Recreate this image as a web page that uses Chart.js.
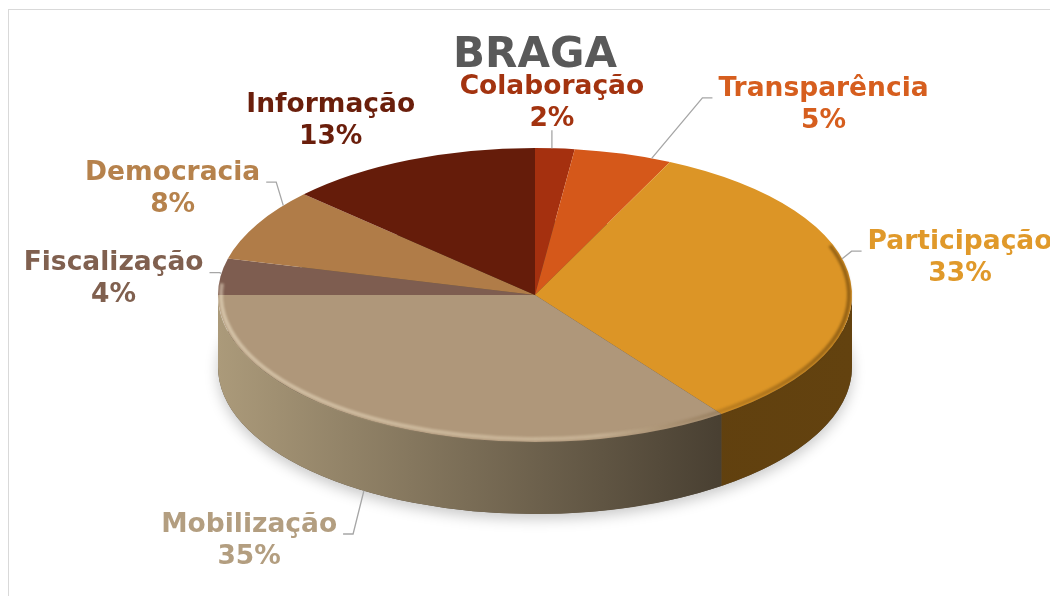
<!DOCTYPE html>
<html>
<head>
<meta charset="utf-8">
<script src="https://cdn.jsdelivr.net/npm/chart.js@4.4.1/dist/chart.umd.min.js"></script>
<style>
    html, body { margin: 0; padding: 0; background: #fff; overflow: hidden; }
    #frame { position: absolute; left: 8px; top: 9px; width: 1100px; height: 700px; border: 1.5px solid #d9d9d9; }
    #wrap { position: absolute; left: 0; top: 0; width: 1050px; height: 596px; }
</style>
</head>
<body>
<div id="frame"></div>
<div id="wrap"><canvas id="chart"></canvas></div>
<script>
// data
const categories = ['Colaboração', 'Transparência', 'Participação', 'Mobilização', 'Fiscalização', 'Democracia', 'Informação'];
const shares = [2, 5, 33, 35, 4, 8, 13];

// styling
const sliceColors = ['#A5300F', '#D5581A', '#DC9526', '#AF977A', '#7E5D50', '#B07C48', '#651C0A'];
const textColors = ['#A3330F', '#D65E1E', '#E0992A', '#B39E80', '#80604F', '#B6824C', '#6A1E0B'];
const sideLight = ['#6e2009', '#8e3a10', '#5a3b0e', '#ab9a7a', '#54403a', '#765230', '#441206'];
const sideDark = ['#4a1506', '#6a2b0b', '#63420f', '#2f281f', '#3f302a', '#573c22', '#300c04'];
// label anchor offsets from the slice rim point, and text alignment
const labelNudge = [[-3, -45], [95, -49], [17, -23], [-54, 43], [-17, 3], [3, -35], [6, -39]];
const labelAlign = ['center', 'left', 'left', 'right', 'right', 'right', 'right'];
const showLeader = [true, true, true, true, true, true, false];

const DEPTH = 72;
const FONT = '"DejaVu Sans", Verdana, sans-serif';

function pieGeom(chart) {
    const arcs = chart.getDatasetMeta(0).data;
    const area = chart.chartArea;
    const { x, y, outerRadius } = arcs[0];
    return { arcs, x, y, r: outerRadius, rx: area.width / 2, ry: area.height / 2 };
}

const pie3d = {
    id: 'pie3d',
    beforeDatasetsDraw(chart) {
        const ctx = chart.ctx;
        const g = pieGeom(chart);
        const sx = g.rx / g.r, sy = g.ry / g.r, d = DEPTH / sy;
        ctx.save();
        ctx.translate(g.x, g.y);
        ctx.scale(sx, sy);
        ctx.translate(-g.x, -g.y);

        // soft shadow under the disc
        ctx.save();
        ctx.shadowColor = 'rgba(0,0,0,0.22)';
        ctx.shadowBlur = 14;
        ctx.shadowOffsetY = 5;
        ctx.beginPath();
        ctx.arc(g.x, g.y + d, g.r, 0, Math.PI * 2);
        ctx.fillStyle = '#5a4e3f';
        ctx.fill();
        ctx.restore();

        // visible side walls (front half)
        g.arcs.forEach((arc, i) => {
            const a0 = Math.max(arc.startAngle, 0);
            const a1 = Math.min(arc.endAngle, Math.PI);
            if (a1 <= a0) return;
            const grad = ctx.createLinearGradient(g.x - g.r, 0, g.x + g.r, 0);
            grad.addColorStop(0, sideLight[i]);
            grad.addColorStop(1, sideDark[i]);
            ctx.beginPath();
            ctx.arc(g.x, g.y, g.r, a0, a1);
            ctx.arc(g.x, g.y + d, g.r, a1, a0, true);
            ctx.closePath();
            ctx.fillStyle = grad;
            ctx.fill();
        });
    },
    afterDatasetsDraw(chart) {
        const ctx = chart.ctx;
        ctx.restore();
        const g = pieGeom(chart);

        // soft bevel on the top rim
        const bev = ctx.createLinearGradient(g.x - g.rx, 0, g.x + g.rx, 0);
        bev.addColorStop(0, 'rgba(255,245,220,0.45)');
        bev.addColorStop(0.6, 'rgba(255,240,210,0.28)');
        bev.addColorStop(0.8, 'rgba(80,50,10,0.22)');
        bev.addColorStop(1, 'rgba(60,35,0,0.45)');
        ctx.save();
        ctx.filter = 'blur(1px)';
        ctx.beginPath();
        ctx.ellipse(g.x, g.y, g.rx - 3, g.ry - 3, 0, -0.35, Math.PI + 0.08);
        ctx.strokeStyle = bev;
        ctx.lineWidth = 4;
        ctx.stroke();
        ctx.restore();

        // data labels with leader lines
        const total = shares.reduce((s, v) => s + v, 0);
        ctx.save();
        ctx.font = 'bold 26.5px ' + FONT;
        ctx.textBaseline = 'middle';
        ctx.textAlign = 'center';
        const rimPoint = (ang) => {
            const s = Math.sin(ang);
            return [g.x + g.rx * Math.cos(ang), g.y + g.ry * s + (s > 0 ? DEPTH : 0)];
        };
        g.arcs.forEach((arc, i) => {
            const mid = (arc.startAngle + arc.endAngle) / 2;
            const [px, py] = rimPoint(mid);
            const ax = px + labelNudge[i][0];
            const ay = py + labelNudge[i][1];
            const line1 = categories[i];
            const line2 = Math.round(shares[i] / total * 100) + '%';
            const w = Math.max(ctx.measureText(line1).width, ctx.measureText(line2).width);
            const align = labelAlign[i];
            const bx = align === 'left' ? ax + w / 2 : align === 'right' ? ax - w / 2 : ax;
            ctx.fillStyle = textColors[i];
            ctx.fillText(line1, bx, ay - 16);
            ctx.fillText(line2, bx, ay + 16);

            if (!showLeader[i]) return;
            ctx.beginPath();
            ctx.strokeStyle = '#a6a6a6';
            ctx.lineWidth = 1.3;
            if (align === 'center') {
                ctx.moveTo(ax, ay + 27);
                ctx.lineTo(ax, py);
            } else {
                const dir = align === 'left' ? -1 : 1;
                const sxp = ax + dir * 6, ey = ay - 7;
                const ex = sxp + dir * 10;
                // nearest rim point in the middle part of the slice
                const span = arc.endAngle - arc.startAngle;
                let best = null, bestD = Infinity;
                for (let k = 0; k <= 40; k++) {
                    const ang = arc.startAngle + span * (0.2 + 0.6 * k / 40);
                    const p = rimPoint(ang);
                    const dd = (p[0] - ex) ** 2 + (p[1] - ey) ** 2;
                    if (dd < bestD) { bestD = dd; best = p; }
                }
                ctx.moveTo(sxp, ey);
                ctx.lineTo(ex, ey);
                ctx.lineTo(best[0], best[1]);
            }
            ctx.stroke();
        });
        ctx.restore();
    }
};

const ctx = document.getElementById('chart').getContext('2d');
new Chart(ctx, {
    type: 'pie',
    data: {
        labels: categories,
        datasets: [{
            data: shares,
            backgroundColor: sliceColors,
            borderWidth: 0,
            hoverOffset: 0,
            offset: 0
        }]
    },
    options: {
        responsive: true,
        maintainAspectRatio: false,
        animation: false,
        events: [],
        layout: { padding: { left: 218, right: 198, top: 0, bottom: 154 } },
        plugins: {
            legend: { display: false },
            tooltip: { enabled: false },
            title: {
                display: true,
                text: 'BRAGA',
                color: '#595959',
                font: { family: FONT, size: 42, weight: 'bold', lineHeight: 1.2 },
                padding: { top: 31, bottom: 66.6 }
            }
        }
    },
    plugins: [pie3d]
});
</script>
</body>
</html>
